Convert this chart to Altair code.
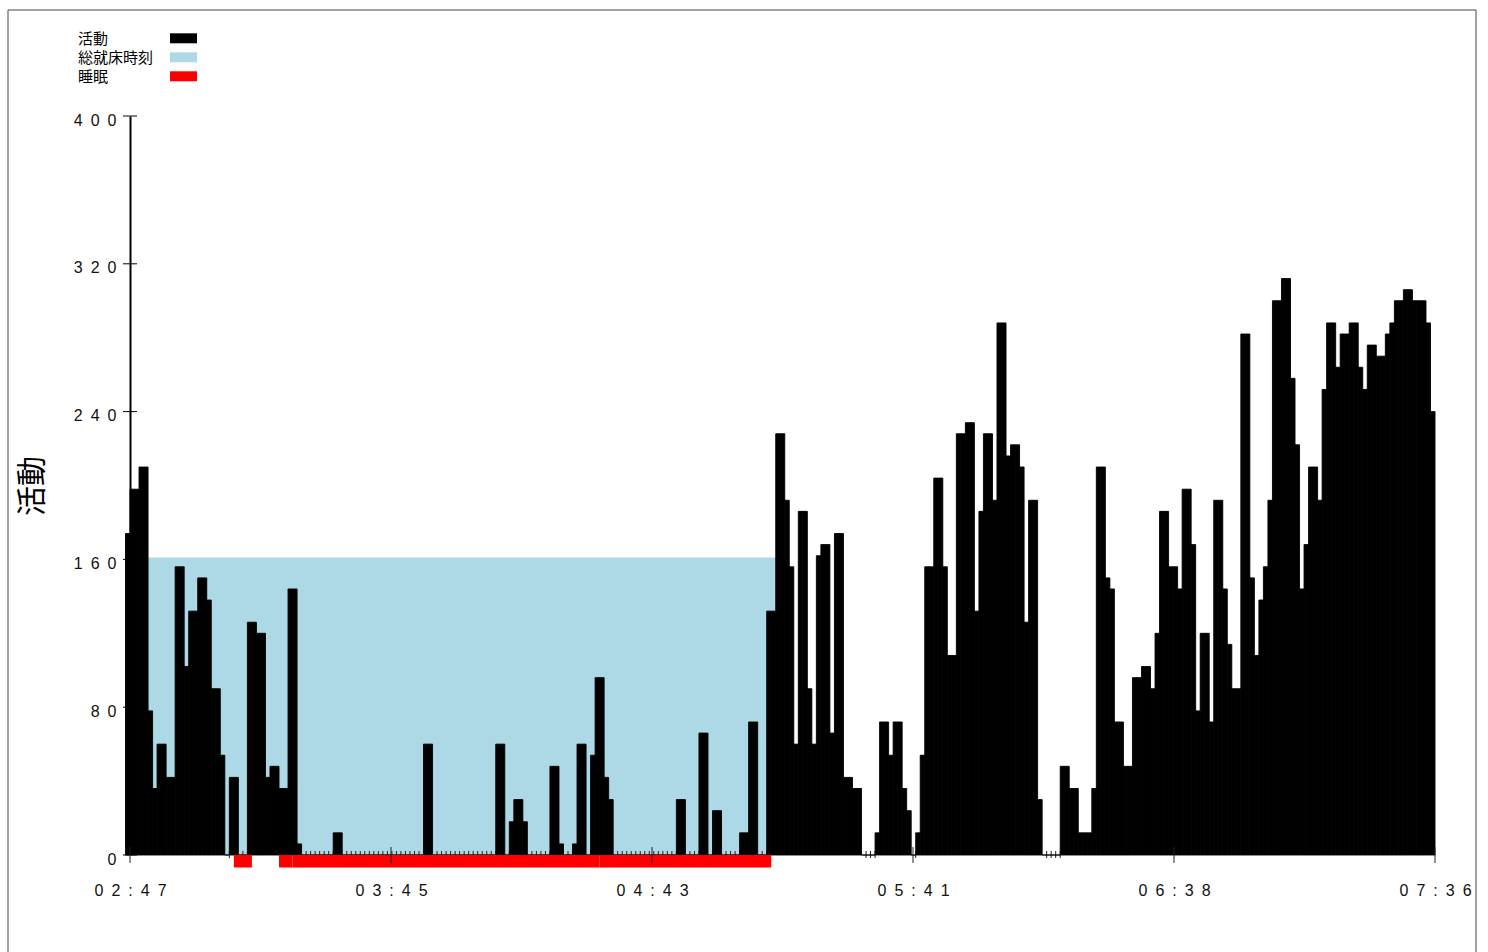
import altair as alt
import pandas as pd

# Activity count per one-minute epoch; slot k covers minutes (k-1, k] after 02:47
activity = [
    174, 198, 198, 210, 210, 78, 36, 60, 60, 42,
    42, 156, 156, 102, 132, 132, 150, 150, 138, 90,
    90, 54, 0, 42, 42, 0, 0, 126, 126, 120,
    120, 42, 48, 48, 36, 36, 144, 144, 6, 0,
    0, 0, 0, 0, 0, 0, 12, 12, 0, 0,
    0, 0, 0, 0, 0, 0, 0, 0, 0, 0,
    0, 0, 0, 0, 0, 0, 60, 60, 0, 0,
    0, 0, 0, 0, 0, 0, 0, 0, 0, 0,
    0, 0, 60, 60, 0, 18, 30, 30, 18, 0,
    0, 0, 0, 0, 48, 48, 6, 0, 0, 6,
    60, 60, 0, 54, 96, 96, 42, 30, 0, 0,
    0, 0, 0, 0, 0, 0, 0, 0, 0, 0,
    0, 0, 30, 30, 0, 0, 0, 66, 66, 0,
    24, 24, 0, 0, 0, 0, 12, 12, 72, 72,
    0, 0, 132, 132, 228, 228, 192, 156, 60, 186,
    186, 90, 60, 162, 168, 168, 66, 174, 174, 42,
    42, 36, 36, 0, 0, 0, 12, 72, 72, 54,
    72, 72, 36, 24, 0, 12, 54, 156, 156, 204,
    204, 156, 108, 108, 228, 228, 234, 234, 132, 186,
    228, 228, 192, 288, 288, 216, 222, 222, 210, 126,
    192, 192, 30, 0, 0, 0, 0, 48, 48, 36,
    36, 12, 12, 12, 36, 210, 210, 150, 144, 72,
    72, 48, 48, 96, 96, 102, 102, 90, 120, 186,
    186, 156, 156, 144, 198, 198, 168, 78, 120, 120,
    72, 192, 192, 144, 114, 90, 90, 282, 282, 150,
    108, 138, 156, 192, 300, 300, 312, 312, 258, 222,
    144, 168, 210, 210, 192, 252, 288, 288, 264, 282,
    282, 288, 288, 264, 252, 276, 276, 270, 270, 282,
    288, 300, 300, 306, 306, 300, 300, 300, 288, 240,
]

# Time axis: labelled positions (minutes after 02:47) and their clock labels
tick_minutes = [0, 57.8, 115.6, 173.4, 231.2, 289]
tick_labels = ["02:47", "03:45", "04:43", "05:41", "06:38", "07:36"]

y_ticks = [0, 80, 160, 240, 320, 400]

# Total time in bed (shaded) and detected sleep periods, in minutes after 02:47
bed_start, bed_end, bed_level = 0, 143, 161
sleep_start = [23, 33, 36, 104]
sleep_end = [27, 36, 104, 142]

legend_labels = ["活動", "総就床時刻", "睡眠"]
legend_colors = ["#000000", "#ADD8E6", "#FF0000"]

W, H = 1305, 739
SEP = "\u2002"
LATIN = "Liberation Sans"
CJK = "Noto Sans CJK JP"


def spaced(s):
    return SEP.join(list(s))


n = len(activity)
act_df = pd.DataFrame({
    "start": [k - 1 for k in range(n)],
    "end": [k for k in range(n)],
    "count": activity,
})
zero_df = pd.DataFrame({"m": [k for k in range(n) if activity[k] == 0]})
bed_df = pd.DataFrame({"s": [bed_start], "e": [bed_end], "h": [bed_level]})
sleep_df = pd.DataFrame({"s": sleep_start, "e": sleep_end})
xt_df = pd.DataFrame({"m": tick_minutes})
yt_df = pd.DataFrame({"v": y_ticks})

x_scale = alt.Scale(domain=[0, 289], nice=False, zero=False)
y_scale = alt.Scale(domain=[0, 400], nice=False)

# label expression picking the spaced clock label for each tick value
expr = "''"
for m, lab in reversed(list(zip(tick_minutes, tick_labels))):
    expr = f"abs(datum.value - {m}) < 0.5 ? '{spaced(lab)}' : ({expr})"

x_axis = alt.Axis(
    values=tick_minutes, labelExpr=expr, domain=False, ticks=False, grid=False,
    labelFont=LATIN, labelFontSize=16, labelColor="#111", labelPadding=27,
    labelFlush=False, labelOverlap=False, title=None,
)
y_axis = alt.Axis(
    values=y_ticks, labelExpr=f"join(split(datum.label, ''), '{SEP}')",
    ticks=False, domain=True, domainColor="#000", domainWidth=2, grid=False,
    labelFont=LATIN, labelFontSize=16, labelColor="#111", labelPadding=14,
    labelOffset=4, title="活動", titleFont=CJK, titleFontSize=30,
    titleFontWeight="normal", titleColor="#000", titleAngle=-90,
    titleX=-98, titleY=H / 2, titleAlign="center", titleBaseline="middle",
)


def X(field):
    return alt.X(field, scale=x_scale, axis=x_axis)


def Y(field):
    return alt.Y(field, scale=y_scale, axis=y_axis)


frame = alt.Chart(pd.DataFrame({"f": [0]})).mark_rect(
    fill=None, stroke="#444", strokeWidth=1
).encode(
    x=alt.value(-122), x2=alt.value(1346), y=alt.value(-106), y2=alt.value(H + 200)
)

bed = alt.Chart(bed_df).mark_rect(color="#ADD8E6").encode(
    x=X("s:Q"), x2="e:Q", y=Y("h:Q"), y2=alt.datum(0),
)

y_tick_rules = alt.Chart(yt_df).mark_rule(color="#000", strokeWidth=1).encode(
    y=Y("v:Q"), x=alt.value(-7), x2=alt.value(7),
)

minute_ticks = alt.Chart(zero_df).mark_rule(color="#222", strokeWidth=1).encode(
    x=X("m:Q"), y=alt.value(H - 4), y2=alt.value(H + 3),
)

bars = alt.Chart(act_df).mark_rect(
    color="#000", stroke="#000", strokeWidth=0.9
).encode(
    x=X("start:Q"), x2="end:Q", y=Y("count:Q"), y2=alt.datum(0),
)

sleep = alt.Chart(sleep_df).mark_rect(color="#FF0000").encode(
    x=X("s:Q"), x2="e:Q", y=alt.value(H), y2=alt.value(H + 12.5),
)

major_ticks = alt.Chart(xt_df).mark_rule(color="#222", strokeWidth=1).encode(
    x=X("m:Q"), y=alt.value(H - 8), y2=alt.value(H + 8),
)

legend_layers = []
for i, (lab, col) in enumerate(zip(legend_labels, legend_colors)):
    cy = -77.7 + 19 * i
    ldf = pd.DataFrame({"label": [lab]})
    legend_layers.append(
        alt.Chart(ldf).mark_text(
            font=CJK, fontSize=15, align="left", baseline="middle", color="#000"
        ).encode(text="label:N", x=alt.value(-52), y=alt.value(cy + 1))
    )
    legend_layers.append(
        alt.Chart(ldf).mark_rect(color=col).encode(
            x=alt.value(40), x2=alt.value(67), y=alt.value(cy - 5), y2=alt.value(cy + 5)
        )
    )

chart = alt.layer(
    frame, bed, y_tick_rules, minute_ticks, bars, sleep, major_ticks, *legend_layers
).properties(
    width=W,
    height=H,
    autosize=alt.AutoSizeParams(type="none"),
    padding={"left": 130, "top": 116, "right": 53, "bottom": 97},
    background="white",
).configure_view(stroke=None)

chart.save("out.html", embed_options={"renderer": "svg", "actions": False})
